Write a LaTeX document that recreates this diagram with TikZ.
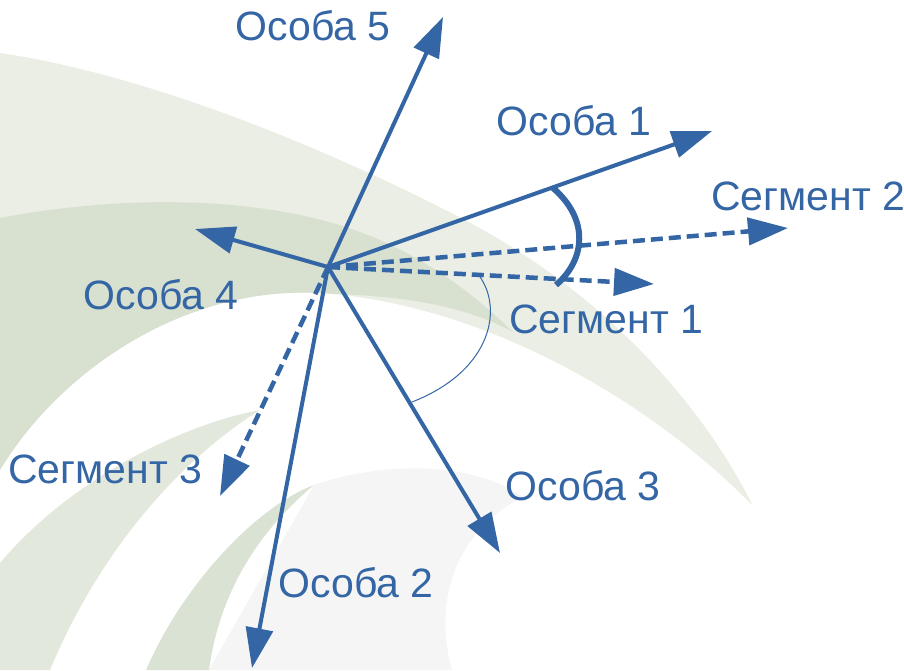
\documentclass[tikz,border=0pt]{standalone}
\usepackage{fontspec}
\setmainfont{Liberation Sans}
\usepackage{tikz}
\usetikzlibrary{arrows.meta}
\definecolor{vecblue}{HTML}{3465A4}
\definecolor{sageA}{HTML}{EAEEE5}
\definecolor{sageB}{HTML}{D8E0D0}
\definecolor{sageC}{HTML}{E3E8DD}
\definecolor{sageD}{HTML}{DAE2D4}
\definecolor{paleGray}{HTML}{F5F5F5}

\begin{document}
\begin{tikzpicture}[x=1pt,y=-1pt]
\tikzset{
vec/.style={ draw=vecblue , line width=4pt ,
-{Triangle[length=40pt,width=27pt]} },
seg/.style={ vec , line width=4.5pt , dash pattern=on 12pt off 6pt },
lbl/.style={ text=vecblue , inner sep=0pt ,
font=\fontsize{41}{49}\selectfont }
}
\useasboundingbox (0,0) rectangle (904,670);

\fill[sageA] (0,53) .. controls (150,75) and (330,150) .. (461,218)
	.. controls (600,290) and (700,400) .. (753,506)
	.. controls (660,410) and (500,310) .. (333,294)
	.. controls (190,280) and (60,370) .. (0,470) -- cycle;
\fill[sageB] (0,218) .. controls (120,195) and (260,195) .. (360,232)
	.. controls (430,258) and (480,300) .. (513,332)
	.. controls (470,308) and (410,296) .. (333,294)
	.. controls (190,280) and (60,370) .. (0,470) -- cycle;
\fill[sageC] (260,410) .. controls (180,425) and (70,480) .. (0,563)
	-- (0,670) -- (50,670) .. controls (100,550) and (180,460) .. (260,410);
\fill[paleGray] (314,485) .. controls (380,462) and (470,460) .. (523,497)
	.. controls (465,525) and (430,590) .. (452,670) -- (209,670) -- cycle;
\fill[sageD] (314,485) .. controls (260,505) and (185,580) .. (146,670)
	-- (209,670) .. controls (220,590) and (260,530) .. (314,485);

\coordinate (c) at (328,267);
\coordinate (o1) at (712,131);
\coordinate (o2) at (252,668);
\coordinate (o3) at (500,553);
\coordinate (o4) at (195,229);
\coordinate (o5) at (443,17);
\coordinate (s1) at (654,284);
\coordinate (s2) at (788,228);
\coordinate (s3) at (220,496);

\draw[seg] (c) -- (s1);
\draw[seg] (c) -- (s2);
\draw[seg] (c) -- (s3);
\draw[vec] (c) -- (o1);
\draw[vec] (c) -- (o2);
\draw[vec] (c) -- (o3);
\draw[vec] (c) -- (o4);
\draw[vec] (c) -- (o5);

\coordinate (a1) at (553,188);
\coordinate (a2) at (556,285);
\draw[vecblue,line width=6pt] (a1) .. controls (590,220) and (585,260) .. (a2);
\coordinate (b1) at (477,273);
\coordinate (b2) at (412,402);
\draw[vecblue,line width=1pt] (b1) .. controls (504,305) and (494,370) .. (b2);

\node[lbl] (lo1) at (574,121) {Особа 1};
\node[lbl] (lo2) at (356,583) {Особа 2};
\node[lbl] (lo3) at (583,486) {Особа 3};
\node[lbl] (lo4) at (161,295) {Особа 4};
\node[lbl] (lo5) at (313,26) {Особа 5};
\node[lbl] (ls1) at (606,319) {Сегмент 1};
\node[lbl] (ls2) at (808,196) {Сегмент 2};
\node[lbl] (ls3) at (105,469) {Сегмент 3};

\end{tikzpicture}
\end{document}
